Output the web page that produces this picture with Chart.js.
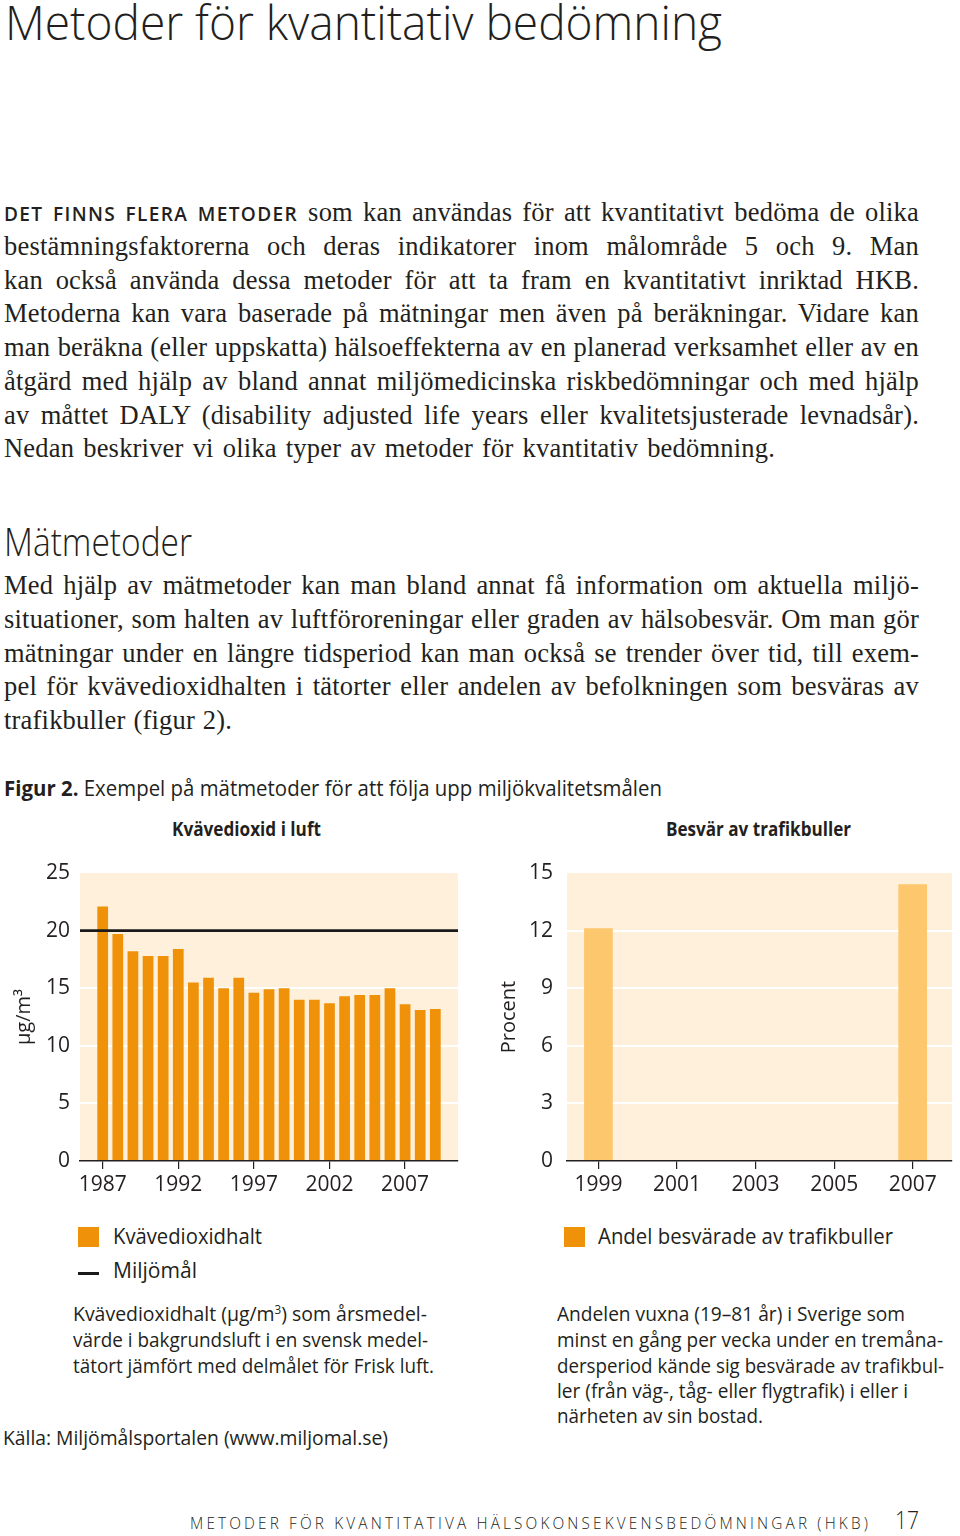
<!DOCTYPE html>
<html lang="sv">
<head>
<meta charset="utf-8">
<title>Metoder för kvantitativ bedömning</title>
<script src="https://cdn.jsdelivr.net/npm/chart.js@4.4.1/dist/chart.umd.min.js"></script>
<style>
html, body { margin: 0; padding: 0; background: #fff; }
body { position: relative; width: 960px; height: 1536px; overflow: hidden; color: #231f20; }
.t { position: absolute; white-space: nowrap; line-height: 1.2; transform-origin: 0 0; }
.bl { display: inline-block; width: 0; height: 0; }
.serif { font-family: 'Liberation Serif', 'DejaVu Serif', serif; letter-spacing: 0.2px; }
.sans { font-family: 'Open Sans', 'Noto Sans', sans-serif; }
.light { font-family: 'Open Sans', 'Noto Sans', sans-serif; font-weight: 350; }
.foot { font-family: 'Open Sans', sans-serif; font-weight: 300; letter-spacing: 3.5px; }
.sc { font-family: 'Open Sans', sans-serif; font-weight: 600; font-size: 0.72em; letter-spacing: 0.07em; }
sup { font-size: 0.6em; vertical-align: 0.55em; line-height: 0; }
canvas { position: absolute; }
.sw { position: absolute; width: 21px; height: 20px; background: #ef9209; }
.dash { position: absolute; width: 21px; height: 3px; background: #1a1a1a; }
</style>
</head>
<body>
<canvas id="no2" width="470" height="351" style="left:0;top:850px"></canvas>
<canvas id="buller" width="480" height="351" style="left:480px;top:850px"></canvas>
<div class="sw" style="left:78px;top:1227px"></div>
<div class="dash" style="left:78px;top:1272px"></div>
<div class="sw" style="left:564px;top:1227px"></div>
<script>
// kvävedioxid i luft (µg/m3), årsmedelvärde
const no2Years = [1987, 1988, 1989, 1990, 1991, 1992, 1993, 1994, 1995, 1996, 1997, 1998,
  1999, 2000, 2001, 2002, 2003, 2004, 2005, 2006, 2007, 2008, 2009];
const no2Values = [22.1, 19.7, 18.2, 17.8, 17.8, 18.4, 15.5, 15.9, 15.0, 15.9, 14.6, 14.9,
  15.0, 14.0, 14.0, 13.7, 14.3, 14.4, 14.4, 15.0, 13.6, 13.1, 13.2];
const miljomal = 20;
const no2XTicks = [1987, 1992, 1997, 2002, 2007];
const no2YTicks = [0, 5, 10, 15, 20, 25];

// besvär av trafikbuller (procent)
const bullerYears = [1999, 2007];
const bullerValues = [12.1, 14.4];
const bullerXTicks = [1999, 2001, 2003, 2005, 2007];
const bullerYTicks = [0, 3, 6, 9, 12, 15];

const INK = '#231f20';
const BODY = 26.5;

// text lines: html, left, baseline, width, size, class, justify
const lines = [
  ['Metoder för kvantitativ bedömning', 5, 40, 717, 48, 'light', 0],
  ['<b class="sc">DET FINNS FLERA METODER</b> som kan användas för att kvantitativt bedöma de olika', 4, 221, 915, BODY, 'serif', 1],
  ['bestämningsfaktorerna och deras indikatorer inom målområde 5 och 9. Man', 4, 254.7, 915, BODY, 'serif', 1],
  ['kan också använda dessa metoder för att ta fram en kvantitativt inriktad HKB.', 4, 288.5, 915, BODY, 'serif', 1],
  ['Metoderna kan vara baserade på mätningar men även på beräkningar. Vidare kan', 4, 322.2, 915, BODY, 'serif', 1],
  ['man beräkna (eller uppskatta) hälsoeffekterna av en planerad verksamhet eller av en', 4, 356, 915, BODY, 'serif', 1],
  ['åtgärd med hjälp av bland annat miljömedicinska riskbedömningar och med hjälp', 4, 389.7, 915, BODY, 'serif', 1],
  ['av måttet DALY (disability adjusted life years eller kvalitetsjusterade levnadsår).', 4, 423.5, 915, BODY, 'serif', 1],
  ['Nedan beskriver vi olika typer av metoder för kvantitativ bedömning.', 4, 457.2, 771, BODY, 'serif', 1],
  ['Mätmetoder', 4, 556, 188, 38, 'light', 0],
  ['Med hjälp av mätmetoder kan man bland annat få information om aktuella miljö-', 4, 594, 915, BODY, 'serif', 1],
  ['situationer, som halten av luftföroreningar eller graden av hälsobesvär. Om man gör', 4, 628, 915, BODY, 'serif', 1],
  ['mätningar under en längre tidsperiod kan man också se trender över tid, till exem-', 4, 661.5, 915, BODY, 'serif', 1],
  ['pel för kvävedioxidhalten i tätorter eller andelen av befolkningen som besväras av', 4, 695, 915, BODY, 'serif', 1],
  ['trafikbuller (figur 2).', 4, 729, 228, BODY, 'serif', 1],
  ['<b>Figur 2.</b> Exempel på mätmetoder för att följa upp miljökvalitetsmålen', 4, 796, 658, 21, 'sans', 0],
  ['<b>Kvävedioxid i luft</b>', 172, 836, 149, 19, 'sans', 0],
  ['<b>Besvär av trafikbuller</b>', 666, 836, 185, 19, 'sans', 0],
  ['Kvävedioxidhalt', 113, 1244, 149, 21, 'sans', 0],
  ['Miljömål', 113, 1278, 84, 21, 'sans', 0],
  ['Andel besvärade av trafikbuller', 598, 1244, 295, 21, 'sans', 0],
  ['Kvävedioxidhalt (µg/m<sup>3</sup>) som årsmedel-', 73, 1321, 354, 20, 'sans', 0],
  ['värde i bakgrundsluft i en svensk medel-', 73, 1347, 355, 20, 'sans', 0],
  ['tätort jämfört med delmålet för Frisk luft.', 73, 1373, 361, 20, 'sans', 0],
  ['Källa: Miljömålsportalen (www.miljomal.se)', 3, 1445, 385, 20, 'sans', 0],
  ['Andelen vuxna (19–81 år) i Sverige som', 557, 1321, 348, 20, 'sans', 0],
  ['minst en gång per vecka under en tremåna-', 557, 1347, 386, 20, 'sans', 0],
  ['dersperiod kände sig besvärade av trafikbul-', 557, 1373, 387, 20, 'sans', 0],
  ['ler (från väg-, tåg- eller flygtrafik) i eller i', 557, 1398, 351, 20, 'sans', 0],
  ['närheten av sin bostad.', 557, 1423, 206, 20, 'sans', 0],
  ['METODER FÖR KVANTITATIVA HÄLSOKONSEKVENSBEDÖMNINGAR (HKB)', 190, 1529, 681, 17, 'foot', 0],
  ['17', 895, 1529, 24, 26, 'light', 0]
];

function place(html, x, base, w, size, cls, just) {
  const el = document.createElement('div');
  el.className = 't ' + cls;
  el.style.fontSize = size + 'px';
  el.style.left = x + 'px';
  el.style.top = '0px';
  el.innerHTML = html + '<i class="bl"></i>';
  document.body.appendChild(el);
  const off = el.querySelector('.bl').offsetTop;
  el.style.top = (base - off) + 'px';
  const nat = el.getBoundingClientRect().width;
  const gaps = (el.textContent.match(/ /g) || []).length;
  if (just && nat < w && gaps > 0) {
    el.style.wordSpacing = ((w - nat) / gaps) + 'px';
  } else {
    el.style.transform = 'scaleX(' + (w / nat) + ')';
  }
}
lines.forEach(l => place(...l));

// cream plot background
const cream = {
  id: 'cream',
  beforeDraw(chart) {
    const {ctx, chartArea: a} = chart;
    ctx.save();
    ctx.fillStyle = '#fef0da';
    ctx.fillRect(a.left, a.top, a.right - a.left, a.bottom - a.top);
    ctx.restore();
  }
};

// miljömål as a horizontal line
const goal = {
  id: 'goal',
  afterDatasetsDraw(chart, args, opts) {
    if (opts.value == null) return;
    const {ctx, chartArea: a, scales: {y}} = chart;
    const py = y.getPixelForValue(opts.value);
    ctx.save();
    ctx.strokeStyle = '#1a1a1a';
    ctx.lineWidth = 2.6;
    ctx.beginPath();
    ctx.moveTo(a.left, py);
    ctx.lineTo(a.right, py);
    ctx.stroke();
    ctx.restore();
  }
};

function barChart(id, o) {
  const ds = {
    label: o.label,
    data: o.xs.map((x, i) => ({x: x, y: o.ys[i]})),
    backgroundColor: o.color,
    borderWidth: 0,
    categoryPercentage: 1,
    barPercentage: o.barPct
  };
  if (o.barThickness) ds.barThickness = o.barThickness;
  const tickFont = {family: "'Open Sans', sans-serif", size: 21};
  return new Chart(document.getElementById(id), {
    type: 'bar',
    data: {datasets: [ds]},
    options: {
      responsive: false,
      animation: false,
      devicePixelRatio: 1,
      layout: {padding: {top: 23, right: o.padRight, left: 0, bottom: 0}},
      plugins: {
        legend: {display: false},
        tooltip: {enabled: false},
        goal: {value: o.goal}
      },
      scales: {
        x: {
          type: 'linear',
          min: o.xMin,
          max: o.xMax,
          offset: false,
          afterBuildTicks: s => { s.ticks = o.xTicks.map(v => ({value: v})); },
          afterFit: s => { s.height = 40; },
          border: {display: true, color: INK, width: 1.5, z: 1},
          grid: {offset: false, drawOnChartArea: false, drawTicks: true, tickLength: 8, color: INK, lineWidth: 1.2},
          ticks: {autoSkip: false, maxRotation: 0, padding: 3, color: INK, font: tickFont, callback: v => String(v)}
        },
        y: {
          min: 0,
          max: o.yMax,
          afterBuildTicks: s => { s.ticks = o.yTicks.map(v => ({value: v})); },
          afterFit: s => { s.width = o.yWidth; s.paddingTop = 0; s.paddingBottom = 0; },
          border: {display: false},
          grid: {
            color: c => (c.tick && (c.tick.value === 0 || c.tick.value === o.yMax)) ? 'rgba(0,0,0,0)' : '#ffffff',
            lineWidth: 2,
            drawTicks: false
          },
          ticks: {padding: o.yPad, color: INK, font: tickFont, callback: v => String(v)},
          title: {display: true, text: o.yTitle, color: INK, font: {family: "'Open Sans', sans-serif", size: 20}, padding: {top: o.titlePad, bottom: 0}}
        }
      }
    },
    plugins: [cream, goal]
  });
}

barChart('no2', {
  label: 'Kvävedioxidhalt', xs: no2Years, ys: no2Values, color: '#ef9209',
  barPct: 0.71, xMin: 1985.5, xMax: 2010.5, xTicks: no2XTicks,
  yMax: 25, yTicks: no2YTicks, yWidth: 80, yPad: 10, yTitle: 'µg/m³', titlePad: 12,
  padRight: 12, goal: miljomal
});

barChart('buller', {
  label: 'Andel besvärade av trafikbuller', xs: bullerYears, ys: bullerValues, color: '#fcc76d',
  barPct: 1, barThickness: 28, xMin: 1998.2, xMax: 2008.0, xTicks: bullerXTicks,
  yMax: 15, yTicks: bullerYTicks, yWidth: 87, yPad: 14, yTitle: 'Procent', titlePad: 17,
  padRight: 8, goal: null
});
</script>
</body>
</html>
